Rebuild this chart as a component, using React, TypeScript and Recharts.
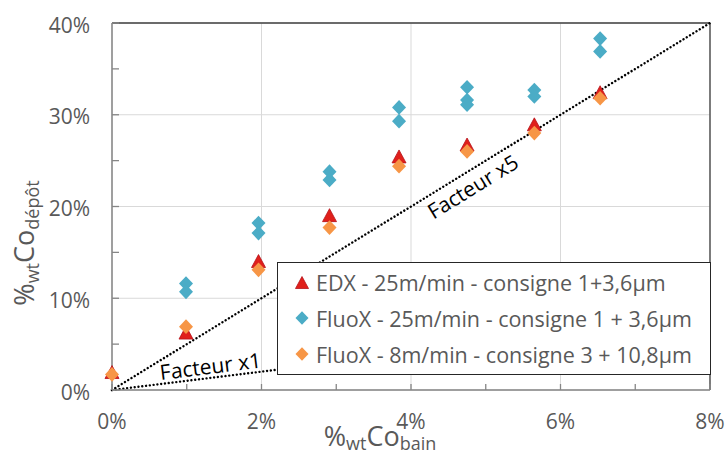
import React from 'react';
import {
  ScatterChart,
  Scatter,
  XAxis,
  YAxis,
  CartesianGrid,
  ReferenceLine,
  Legend,
} from 'recharts';

// %wt Co in the bath (x) for each sample
const xBain = [0, 0.0099, 0.0196, 0.0291, 0.0384, 0.0475, 0.0565, 0.0653];
const edxY = [0.019, 0.062, 0.14, 0.19, 0.254, 0.267, 0.289, 0.324];
const fluo8Y = [0.017, 0.069, 0.131, 0.177, 0.244, 0.26, 0.28, 0.318];

// FluoX 25 m/min: repeated measurements
const fluo25X = [0.0099, 0.0099, 0.0196, 0.0196, 0.0291, 0.0291, 0.0384, 0.0384, 0.0475, 0.0475, 0.0475, 0.0565, 0.0565, 0.0653, 0.0653];
const fluo25Y = [0.116, 0.107, 0.182, 0.171, 0.238, 0.229, 0.308, 0.293, 0.33, 0.316, 0.311, 0.327, 0.32, 0.383, 0.369];

const xMajor = [0, 0.02, 0.04, 0.06, 0.08];
const xMinor = [0.01, 0.03, 0.05, 0.07];
const yMajor = [0, 0.1, 0.2, 0.3, 0.4];
const yMinor = [0.05, 0.15, 0.25, 0.35];

const factors = [5, 1];
const factorLabels = ['Facteur x5', 'Facteur x1'];

const seriesNames = [
  'EDX - 25m/min - consigne 1+3,6µm',
  'FluoX - 25m/min - consigne 1 + 3,6µm',
  'FluoX - 8m/min - consigne 3 + 10,8µm',
];

const toPoints = (xs: number[], ys: number[]) => xs.map((x, i) => ({ x, y: ys[i] }));
const edxData = toPoints(xBain, edxY);
const fluo25Data = toPoints(fluo25X, fluo25Y);
const fluo8Data = toPoints(xBain, fluo8Y);

const FONT = '"Open Sans", sans-serif';
const TEXT = '#595959';
const RED = '#E0201B';
const BLUE = '#4BACC6';
const ORANGE = '#F79646';

const pct = (v: number) => `${Math.round(v * 100)}%`;
const isIn = (arr: number[], v: number) => arr.some((a) => Math.abs(a - v) < 1e-9);

const Triangle = ({ cx, cy, s = 7 }: any) => (
  <path
    d={`M${cx},${cy - s} L${cx + s},${cy + s * 0.85} L${cx - s},${cy + s * 0.85} Z`}
    fill={RED}
    stroke="#B5121B"
    strokeWidth={0.8}
  />
);

const Diamond = ({ cx, cy, fill, s = 7 }: any) => (
  <path
    d={`M${cx},${cy - s * 1.05} L${cx + s},${cy} L${cx},${cy + s * 1.05} L${cx - s},${cy} Z`}
    fill={fill}
  />
);

const XTick = ({ x, y, payload }: any) => {
  const major = isIn(xMajor, payload.value);
  return (
    <g>
      <line x1={x} x2={x} y1={y} y2={y - 6} stroke="#868686" strokeWidth={1.3} />
      {major && (
        <text x={x} y={y + 39} textAnchor="middle" fill={TEXT} fontSize={21} fontFamily={FONT}>
          {pct(payload.value)}
        </text>
      )}
    </g>
  );
};

const YTick = ({ x, y, payload }: any) => {
  const major = isIn(yMajor, payload.value);
  return (
    <g>
      <line x1={x} x2={x + 7} y1={y} y2={y} stroke="#868686" strokeWidth={1.3} />
      {major && (
        <text x={x - 22} y={y + 9.5} textAnchor="end" fill={TEXT} fontSize={21} fontFamily={FONT}>
          {pct(payload.value)}
        </text>
      )}
    </g>
  );
};

const XTitle = () => (
  <text x={380} y={446} textAnchor="middle" fill={TEXT} fontSize={27} fontFamily={FONT}>
    %<tspan fontSize={18} dy={4}>wt</tspan>
    <tspan dy={-4}>Co</tspan>
    <tspan fontSize={18} dy={4}>bain</tspan>
  </text>
);

const YTitle = () => (
  <text transform="translate(34,243) rotate(-90)" textAnchor="middle" fill={TEXT} fontSize={27} fontFamily={FONT}>
    %<tspan fontSize={18} dy={5}>wt</tspan>
    <tspan dy={-5}>Co</tspan>
    <tspan fontSize={18} dy={5}>dépôt</tspan>
  </text>
);

// label placed along the dotted line: t = fraction of the segment, d = normal offset
const factorLabel = (text: string, t: number, d: number) => (props: any) => {
  const vb = props.viewBox;
  if (!vb) return null;
  const ang = Math.atan2(vb.height, vb.width);
  const px = vb.x + t * vb.width + d * Math.sin(ang);
  const py = vb.y + vb.height - t * vb.height + d * Math.cos(ang);
  const deg = (-ang * 180) / Math.PI;
  return (
    <text
      x={px}
      y={py}
      transform={`rotate(${deg},${px},${py})`}
      textAnchor="middle"
      dominantBaseline="central"
      fill="#000"
      fontSize={21}
      fontFamily={FONT}
    >
      {text}
    </text>
  );
};
const labelPlacement = [
  [0.59, 15],
  [0.167, -12],
];

const LegendBox = () => (
  <div
    style={{
      width: 434,
      height: 113,
      boxSizing: 'border-box',
      border: '1.5px solid #262626',
      background: '#fff',
      paddingTop: 1,
      fontFamily: FONT,
      fontSize: 21.5,
      color: TEXT,
    }}
  >
    {seriesNames.map((name, i) => (
      <div key={name} style={{ display: 'flex', alignItems: 'center', height: 36 }}>
        <svg width={38} height={20} style={{ flex: 'none' }}>
          {i === 0 ? (
            <Triangle cx={24} cy={11} s={6.5} />
          ) : (
            <Diamond cx={24} cy={10} s={6.5} fill={i === 1 ? BLUE : ORANGE} />
          )}
        </svg>
        <span style={{ whiteSpace: 'nowrap' }}>{name}</span>
      </div>
    ))}
  </div>
);

export default function App() {
  return (
    <div style={{ position: 'absolute', left: 0, top: 0, width: 728, height: 459, background: '#fff' }}>
      <ScatterChart width={728} height={459} margin={{ top: 23, right: 18, bottom: 0, left: 0 }}>
        <CartesianGrid
          stroke="#D9D9D9"
          strokeWidth={1}
          verticalValues={xMajor}
          horizontalValues={yMajor}
        />
        <XAxis
          type="number"
          dataKey="x"
          domain={[0, 0.08]}
          ticks={[...xMajor, ...xMinor].sort((a, b) => a - b)}
          tick={<XTick />}
          tickLine={false}
          tickSize={0}
          tickMargin={0}
          height={69}
          axisLine={{ stroke: '#868686', strokeWidth: 1.5 }}
          label={<XTitle />}
        />
        <YAxis
          type="number"
          dataKey="y"
          domain={[0, 0.4]}
          ticks={[...yMajor, ...yMinor].sort((a, b) => a - b)}
          tick={<YTick />}
          tickLine={false}
          tickSize={0}
          tickMargin={0}
          width={112}
          axisLine={{ stroke: '#868686', strokeWidth: 1.5 }}
          label={<YTitle />}
        />
        <ReferenceLine y={0.4} stroke="#404040" strokeWidth={1.3} />
        <ReferenceLine x={0.08} stroke="#404040" strokeWidth={1.3} />
        {factors.map((k, i) => (
          <ReferenceLine
            key={k}
            segment={[
              { x: 0, y: 0 },
              { x: 0.08, y: 0.08 * k },
            ]}
            stroke="#000"
            strokeWidth={2.4}
            strokeDasharray="0.01 3.8"
            strokeLinecap="round"
            label={factorLabel(factorLabels[i], labelPlacement[i][0], labelPlacement[i][1])}
          />
        ))}
        <Scatter
          name={seriesNames[0]}
          data={edxData}
          fill={RED}
          isAnimationActive={false}
          shape={(p: any) => <Triangle cx={p.cx} cy={p.cy} />}
        />
        <Scatter
          name={seriesNames[1]}
          data={fluo25Data}
          fill={BLUE}
          isAnimationActive={false}
          shape={(p: any) => <Diamond cx={p.cx} cy={p.cy} fill={BLUE} />}
        />
        <Scatter
          name={seriesNames[2]}
          data={fluo8Data}
          fill={ORANGE}
          isAnimationActive={false}
          shape={(p: any) => <Diamond cx={p.cx} cy={p.cy} fill={ORANGE} />}
        />
        <Legend
          layout="vertical"
          align="center"
          verticalAlign="middle"
          content={<LegendBox />}
          wrapperStyle={{ left: 277, top: 262, width: 434, height: 113 }}
        />
      </ScatterChart>
    </div>
  );
}
